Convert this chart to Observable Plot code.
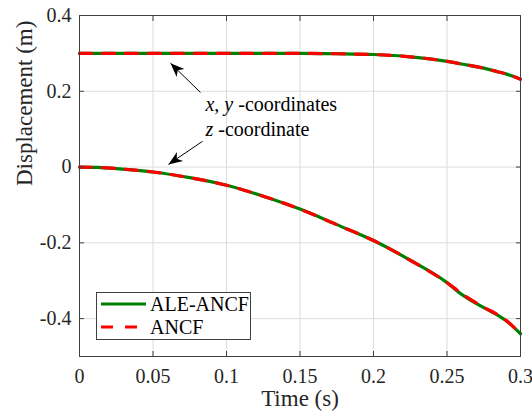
<!DOCTYPE html>
<html><head><meta charset="utf-8">
<script src="https://cdn.jsdelivr.net/npm/d3@7"></script>
<script src="https://cdn.jsdelivr.net/npm/@observablehq/plot@0.6"></script>
<style>
body{margin:0;background:#fff;}
#wrap{position:relative;width:532px;height:419px;font-family:"Liberation Serif","Times New Roman",serif;}
#wrap svg text{font-family:"Liberation Serif","Times New Roman",serif;}
#legend{position:absolute;left:96px;top:292px;width:153px;height:46px;border:1px solid #404040;background:#fff;}
#legend svg{position:absolute;left:0;top:0;}
</style></head><body><div id="wrap"></div>
<script>
// ---- data ----
const time   = [0, 0.0125, 0.025, 0.0375, 0.05, 0.075, 0.1, 0.125, 0.15, 0.175, 0.2, 0.225, 0.25, 0.26, 0.275, 0.285, 0.29, 0.3];
const xyALE  = [0.3, 0.3, 0.3, 0.3, 0.3, 0.3, 0.3, 0.3, 0.3, 0.299, 0.297, 0.291, 0.279, 0.272, 0.261, 0.251, 0.246, 0.232];
const zALE   = [0, -0.001, -0.004, -0.008, -0.013, -0.028, -0.048, -0.077, -0.111, -0.152, -0.194, -0.246, -0.305, -0.336, -0.371, -0.392, -0.405, -0.44];
const xyANCF = [0.3, 0.3, 0.3, 0.3, 0.3, 0.3, 0.3, 0.3, 0.3, 0.299, 0.297, 0.291, 0.279, 0.272, 0.261, 0.251, 0.246, 0.232];
const zANCF  = [0, -0.001, -0.004, -0.008, -0.013, -0.028, -0.048, -0.077, -0.111, -0.152, -0.194, -0.246, -0.305, -0.334, -0.370, -0.391, -0.404, -0.44];
const seriesNames = ["ALE-ANCF", "ANCF"];
const xTicks = [0, 0.05, 0.1, 0.15, 0.2, 0.25, 0.3];
const xTickLabels = ["0", "0.05", "0.1", "0.15", "0.2", "0.25", "0.3"];
const yTicks = [-0.4, -0.2, 0, 0.2, 0.4];
const yTickLabels = ["-0.4", "-0.2", "0", "0.2", "0.4"];
const xLabel = "Time (s)";
const yLabel = "Displacement (m)";
const annoLabels = ["x, y -coordinates", "z -coordinate"];
const annoTextT = [0.0857, 0.0857];
const annoTextV = [0.166, 0.100];
const arrowFromT = [0.0823, 0.0837];
const arrowFromV = [0.197, 0.068];
const arrowToT = [0.0619, 0.0605];
const arrowToV = [0.274, 0.007];

// ---- build tables ----
function rows(vals, series, comp) { return time.map((t, i) => ({t, v: vals[i], series, comp})); }
const aleRows = [...rows(xyALE, seriesNames[0], "xy"), ...rows(zALE, seriesNames[0], "z")];
const ancfRows = [...rows(xyANCF, seriesNames[1], "xy"), ...rows(zANCF, seriesNames[1], "z")];
const annoText = annoLabels.map((s, i) => ({t: annoTextT[i], v: annoTextV[i], s}));
const arrows = arrowFromT.map((_, i) => ({x1: arrowFromT[i], y1: arrowFromV[i], x2: arrowToT[i], y2: arrowToV[i]}));

const FONT = '"Liberation Serif","Times New Roman",serif';
const INK = "#262626";
const GREEN = "#008000", RED = "#ff0000";

function headMarker(color, context) {
  const m = d3.create("svg:marker")
    .attr("viewBox", "-15 -6 16 12")
    .attr("markerUnits", "userSpaceOnUse")
    .attr("markerWidth", 16).attr("markerHeight", 12)
    .attr("refX", 0).attr("refY", 0)
    .attr("orient", "auto")
    .attr("overflow", "visible");
  m.append("path").attr("d", "M0,0L-14,-5.5L-10,0L-14,5.5Z").attr("fill", "#000").attr("stroke", "none");
  return m.node();
}

const chart = Plot.plot({
  width: 532, height: 419,
  marginLeft: 79, marginRight: 12, marginTop: 15, marginBottom: 63,
  style: {fontFamily: FONT, background: "#fff", color: INK},
  x: {domain: [0, 0.3]},
  y: {domain: [-0.5, 0.4]},
  marks: [
    Plot.gridX(xTicks, {stroke: "#dcdcdc", strokeOpacity: 1}),
    Plot.gridY(yTicks, {stroke: "#dcdcdc", strokeOpacity: 1}),
    Plot.line(aleRows, {x: "t", y: "v", z: "comp", stroke: GREEN, strokeWidth: 3.2, curve: "monotone-x"}),
    Plot.line(ancfRows, {x: "t", y: "v", z: "comp", stroke: RED, strokeWidth: 3.2, strokeDasharray: "12,11", curve: "monotone-x"}),
    Plot.frame({stroke: "#404040", strokeWidth: 1}),
    Plot.axisX(xTicks, {anchor: "bottom", tickSize: -5, stroke: "#404040", tickFormat: () => "", label: null}),
    Plot.axisX(xTicks, {anchor: "top", tickSize: -5, stroke: "#404040", tickFormat: () => "", label: null}),
    Plot.axisY(yTicks, {anchor: "left", tickSize: -5, stroke: "#404040", tickFormat: () => "", label: null}),
    Plot.axisY(yTicks, {anchor: "right", tickSize: -5, stroke: "#404040", tickFormat: () => "", label: null}),
    Plot.axisX(xTicks, {anchor: "bottom", tickSize: 0, tickPadding: 12, fontSize: 20, fontFamily: FONT, fill: INK, tickFormat: (d) => xTickLabels[xTicks.indexOf(d)], label: null}),
    Plot.axisY(yTicks, {anchor: "left", tickSize: 0, tickPadding: 8, fontSize: 20, fontFamily: FONT, fill: INK, tickFormat: (d) => yTickLabels[yTicks.indexOf(d)], label: null}),
    Plot.text([xLabel], {frameAnchor: "bottom", dy: 49, fontSize: 23, fontFamily: FONT, fill: INK}),
    Plot.text([yLabel], {frameAnchor: "left", dx: -55, rotate: -90, fontSize: 23, fontFamily: FONT, fill: INK}),
    Plot.link(arrows, {x1: "x1", y1: "y1", x2: "x2", y2: "y2", stroke: "#000", strokeWidth: 1, markerEnd: headMarker}),
    Plot.text(annoText, {x: "t", y: "v", text: "s", textAnchor: "start", fontSize: 20, fontFamily: FONT, fill: "#000"})
  ]
});

// italic variable names
d3.select(chart).selectAll("text").each(function () {
  const t = this.textContent;
  if (annoLabels.includes(t)) {
    this.innerHTML = t.replace(/(^|\s)([xyz])(?=[, ])/g, '$1<tspan font-style="italic">$2</tspan>');
  }
});

const wrap = document.getElementById("wrap");
wrap.appendChild(chart);

// legend
const leg = document.createElement("div");
leg.id = "legend";
const lsvg = d3.create("svg").attr("width", 153).attr("height", 46);
const legendStyles = [{stroke: GREEN, dash: null}, {stroke: RED, dash: "12,12"}];
seriesNames.forEach((name, i) => {
  const cy = 11 + i * 23;
  lsvg.append("line").attr("x1", 4).attr("x2", 49).attr("y1", cy).attr("y2", cy)
    .attr("stroke", legendStyles[i].stroke).attr("stroke-width", 3.2)
    .attr("stroke-dasharray", legendStyles[i].dash);
  lsvg.append("text").attr("x", 53).attr("y", cy).attr("dy", "0.34em")
    .attr("font-family", FONT).attr("font-size", 20).attr("fill", "#000").text(name);
});
leg.appendChild(lsvg.node());
wrap.appendChild(leg);
</script></body></html>
